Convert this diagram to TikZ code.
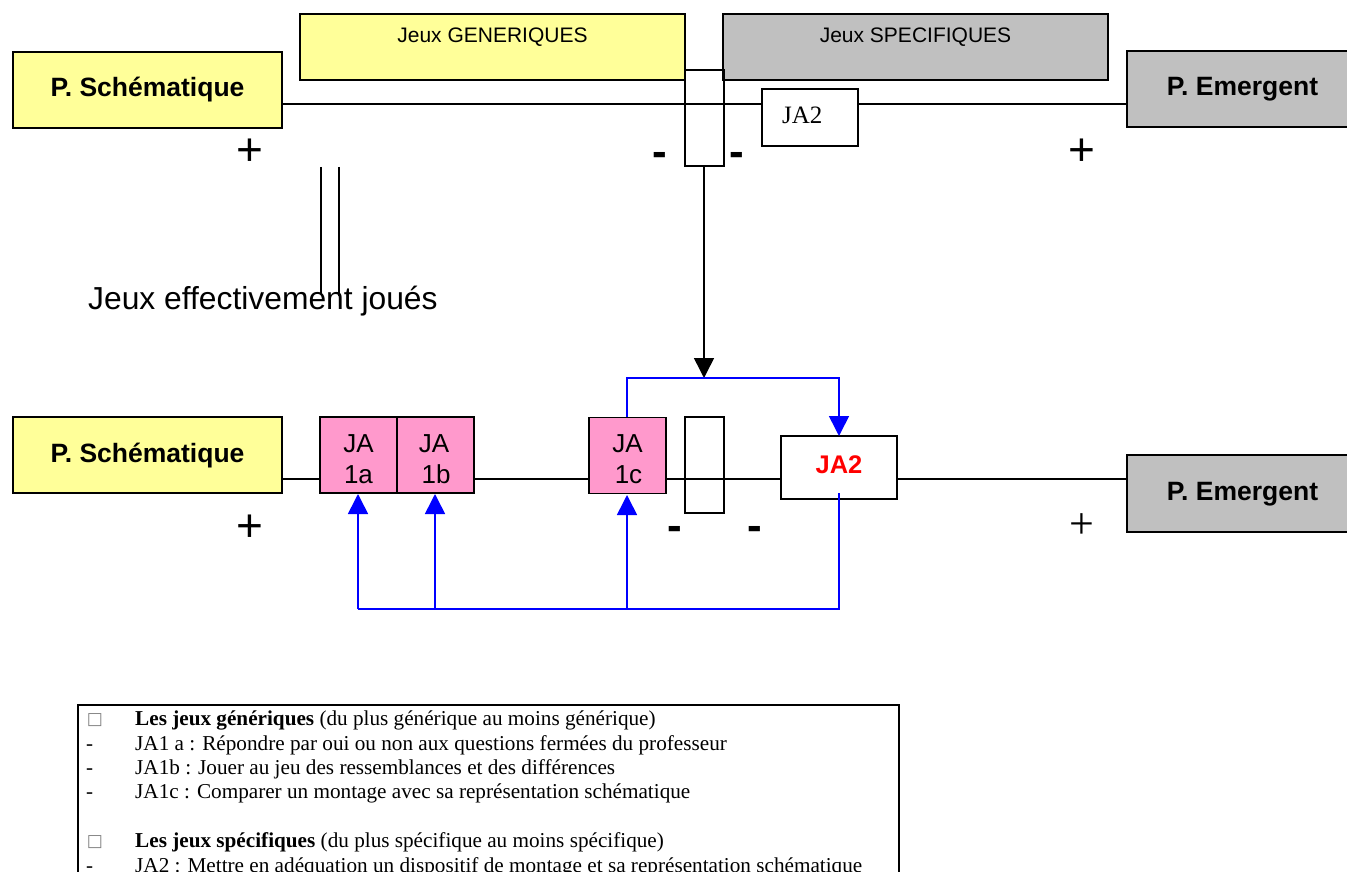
\documentclass[tikz,border=0pt]{standalone}
\usepackage{fontspec}
\setmainfont{Liberation Serif}
\newfontfamily\arialf{Liberation Sans}
\newfontfamily\tnrf{Liberation Serif}
\newfontfamily\dejavuf{DejaVu Sans}
\usetikzlibrary{arrows.meta}
\definecolor{pyellow}{HTML}{FFFF99}
\definecolor{pgrey}{HTML}{C0C0C0}
\definecolor{ppink}{HTML}{FF99CC}
\definecolor{pblue}{HTML}{0000FF}
\definecolor{pred}{HTML}{FF0000}
\tikzset{
  box/.style={draw=black, line width=1.8pt, inner sep=0pt, outer sep=0pt, anchor=center},
  poletext/.style={font=\arialf\bfseries\fontsize{26.5}{30}\selectfont, anchor=base, inner sep=0pt},
  jabox/.style={box, fill=ppink, minimum width=77pt, minimum height=76pt},
  jatext/.style={font=\arialf\fontsize{26}{31}\selectfont, anchor=base, inner sep=0pt},
  gamebox/.style={box, line width=1.5pt, minimum width=385pt, minimum height=66pt},
  gamelabel/.style={font=\arialf\fontsize{21}{24}\selectfont, anchor=center, inner sep=0pt},
  wire/.style={draw=black, line width=1.8pt},
  thinwire/.style={draw=black, line width=1.5pt},
  bluewire/.style={draw=pblue, line width=1.6pt},
  bluearrow/.style={bluewire, -{Triangle[width=20pt,length=20pt]}},
  blackarrow/.style={thinwire, -{Triangle[width=20pt,length=20pt]}},
  plussign/.style={font=\arialf\fontsize{46}{46}\selectfont, anchor=base, inner sep=0pt},
  plusserif/.style={font=\tnrf\fontsize{44}{44}\selectfont, anchor=base, inner sep=0pt},
  minussign/.style={font=\arialf\bfseries\fontsize{44}{44}\selectfont, anchor=base, inner sep=0pt},
  legtext/.style={font=\tnrf\fontsize{21.2}{24}\selectfont, anchor=base west, inner sep=0pt},
  legdash/.style={font=\tnrf\fontsize{21}{24}\selectfont, anchor=base, inner sep=0pt},
  legsquare/.style={font=\dejavuf\fontsize{17}{17}\selectfont, text=gray, anchor=base, inner sep=0pt}
}
\begin{document}
\begin{tikzpicture}[x=1pt,y=-1pt]
\useasboundingbox (0,0) rectangle (1347,872);

% ---------- reference levels
\coordinate (tl) at (0,104);
\coordinate (bl) at (0,479);
\coordinate (jn) at (704,378);
\coordinate (bb) at (0,609);
\coordinate (ja2in) at (839,493);

% ---------- top row
\node[gamebox, fill=pyellow] (gen) at (492.5,47) {};
\node[gamebox, fill=pgrey] (spec) at (915.5,47) {};
\node[gamelabel] (gentxt) at (492.5,37) {Jeux GENERIQUES};
\node[gamelabel] (spectxt) at (915.5,37) {Jeux SPECIFIQUES};

\node[box, fill=pyellow, minimum width=269pt, minimum height=76pt] (psT) at (147.5,90) {};
\node[poletext] (psTtxt) at (147.5,97) {P. Schématique};
\node[box, fill=pgrey, minimum width=231pt, minimum height=76pt] (peT) at (1242.5,89) {};
\node[poletext] (peTtxt) at (1242.5,96) {P. Emergent};
\node[box, minimum width=96pt, minimum height=57pt, fill=white] (ja2T) at (810,117.5) {};
\node[font=\tnrf\fontsize{25}{28}\selectfont, anchor=base west, inner sep=0pt] (ja2Ttxt) at (782,124) {JA2};

\draw[wire] (psT.east |- tl) -- (ja2T.west |- tl);
\draw[wire] (ja2T.east |- tl) -- (peT.west |- tl);
\node[box, line width=1.5pt, minimum width=39pt, minimum height=96pt] (smallT) at (704.5,118) {};

\node[plussign] (plusTL) at (250,166) {+};
\node[plussign] (plusTR) at (1082,166) {+};
\node[minussign] (minTL) at (660,167) {-};
\node[minussign] (minTR) at (737,167) {-};

% two vertical lines
\coordinate (v1a) at (321,167);
\coordinate (v1b) at (321,294);
\coordinate (v2a) at (339,167);
\coordinate (v2b) at (339,296);
\draw[thinwire] (v1a) -- (v1b);
\draw[thinwire] (v2a) -- (v2b);

\node[font=\arialf\fontsize{31.8}{34}\selectfont, anchor=base west, inner sep=0pt] (played) at (88,309) {Jeux effectivement joués};

% black arrow down
\draw[blackarrow] (smallT.south -| jn) -- (jn);

% ---------- bottom row
\node[box, fill=pyellow, minimum width=269pt, minimum height=76pt] (psB) at (147.5,455) {};
\node[poletext] (psBtxt) at (147.5,462) {P. Schématique};
\node[box, fill=pgrey, minimum width=231pt, minimum height=77pt] (peB) at (1242.5,493.5) {};
\node[poletext] (peBtxt) at (1242.5,500) {P. Emergent};

\draw[wire] (psB.east |- bl) -- (320,479);
\draw[wire] (474,479) -- (589,479);
\draw[wire] (666,479) -- (781,479);
\draw[wire] (897,479) -- (peB.west |- bl);

\node[jabox] (ja1a) at (358.5,455) {};
\node[jabox] (ja1b) at (435.5,455) {};
\node[jabox] (ja1c) at (627.5,455.5) {};
\node[jatext] (ja1at1) at (358.5,452) {JA};
\node[jatext] (ja1at2) at (358.5,483) {1a};
\node[jatext] (ja1bt1) at (434,452) {JA};
\node[jatext] (ja1bt2) at (436,483) {1b};
\node[jatext] (ja1ct1) at (627.5,452) {JA};
\node[jatext] (ja1ct2) at (628.5,483) {1c};
\node[box, line width=1.5pt, minimum width=39pt, minimum height=96pt] (emptyB) at (704.5,465) {};
\node[box, line width=1.5pt, fill=white, minimum width=116pt, minimum height=63pt] (ja2B) at (839,467.5) {};
\node[font=\arialf\bfseries\fontsize{25.5}{28}\selectfont, text=pred, anchor=base, inner sep=0pt] (ja2Btxt) at (839,473) {JA2};

\node[plussign] (plusBL) at (250,541) {+};
\node[plusserif] (plusBR) at (1082,538) {+};
\node[minussign] (minBL) at (675,540) {-};
\node[minussign] (minBR) at (755,540) {-};

% blue feedback lines
\coordinate (c1) at (627,417);
\coordinate (a1) at (358,494);
\coordinate (a2) at (435,494);
\coordinate (a3) at (627,495);
\draw[bluearrow] (c1) |- (jn) -| (ja2in |- ja2B.north);
\draw[bluewire] (ja2in) -- (ja2in |- bb) -- (a1 |- bb);
\draw[bluearrow] (a1 |- bb) -- (a1);
\draw[bluearrow] (a2 |- bb) -- (a2);
\draw[bluearrow] (a3 |- bb) -- (a3);

% ---------- legend
\coordinate (lgA) at (78,1000);
\coordinate (lgB) at (899,705);
\draw[line width=2.7pt] (lgA) |- (lgB) -- (lgB |- lgA);
\node[legsquare] (sq1) at (95,724) {□};
\node[legtext] (l1) at (135,725) {\textbf{Les jeux génériques} (du plus générique au moins générique)};
\node[legdash] (d2) at (89.5,750) {-};
\node[legtext] (l2) at (135,750) {JA1 a : Répondre par oui ou non aux questions fermées du professeur};
\node[legdash] (d3) at (89.5,774) {-};
\node[legtext] (l3) at (135,774) {JA1b : Jouer au jeu des ressemblances et des différences};
\node[legdash] (d4) at (89.5,798) {-};
\node[legtext] (l4) at (135,798) {JA1c : Comparer un montage avec sa représentation schématique};
\node[legsquare] (sq5) at (95,846) {□};
\node[legtext] (l5) at (135,847) {\textbf{Les jeux spécifiques} (du plus spécifique au moins spécifique)};
\node[legdash] (d6) at (89.5,872) {-};
\node[legtext] (l6) at (135,872) {JA2 : Mettre en adéquation un dispositif de montage et sa représentation schématique};
\end{tikzpicture}
\end{document}
